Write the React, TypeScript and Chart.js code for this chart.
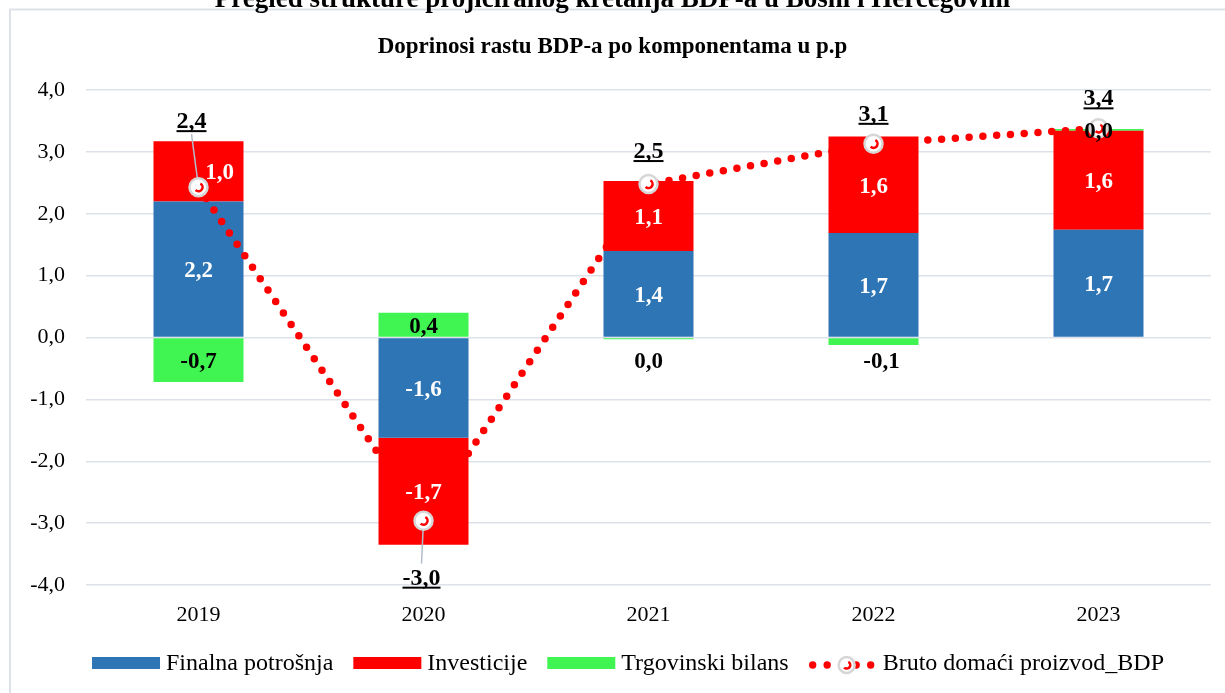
import React, { useEffect, useRef } from 'react';
import { Chart, registerables } from 'chart.js';

Chart.register(...registerables);

// ---- Data ----
const categories = ['2019', '2020', '2021', '2022', '2023'];
const finalnaPotrosnja = [2.2, -1.62, 1.4, 1.69, 1.74];
const investicije = [0.97, -1.73, 1.13, 1.56, 1.6];
const trgovinskiBilans = [-0.72, 0.4, -0.03, -0.12, 0.03];
const bdp = [2.43, -2.96, 2.48, 3.13, 3.38];
const yMin = -4;
const yMax = 4;
const yStep = 1;

const seriesNames = ['Finalna potrošnja', 'Investicije', 'Trgovinski bilans', 'Bruto domaći proizvod_BDP'];
const TITLE = 'Pregled strukture projiciranog kretanja BDP-a u Bosni i Hercegovini';
const SUBTITLE = 'Doprinosi rastu BDP-a po komponentama u p.p';

// ---- Styles ----
const FONT = "'Liberation Serif', 'Times New Roman', serif";
const BLUE = '#2E75B6';
const RED = '#FF0000';
const GREEN = '#40F552';
const GRID = '#dde1e9';

// label placement tweaks (pixels), style only
const bdpLabelOffsets: Array<[number, number, boolean]> = [
  [-7, -67, true],
  [-2, 56, true],
  [0, -34, false],
  [0, -31, false],
  [0, -31, false],
];
const barLabelNudge: Record<string, [number, number]> = {
  '1-0': [21, 0],
  '2-3': [8, 0],
};

const fmt = (v: number) => {
  const r = Math.round(v * 10) / 10;
  let s = r.toFixed(1);
  if (s === '-0.0') s = '0.0';
  return s.replace('.', ',');
};

function drawMarker(ctx: CanvasRenderingContext2D, x: number, y: number, r: number) {
  ctx.save();
  ctx.beginPath();
  ctx.arc(x, y, r, 0, Math.PI * 2);
  ctx.fillStyle = '#ffffff';
  ctx.fill();
  ctx.lineWidth = 2.5;
  ctx.strokeStyle = '#d6d6d6';
  ctx.stroke();
  ctx.beginPath();
  ctx.arc(x, y, r * 0.45, -Math.PI * 0.35, Math.PI * 0.75);
  ctx.strokeStyle = RED;
  ctx.lineWidth = 2.5;
  ctx.stroke();
  ctx.restore();
}

const framePlugin = {
  id: 'frame',
  beforeDraw(chart: any) {
    const ctx: CanvasRenderingContext2D = chart.ctx;
    ctx.save();
    ctx.fillStyle = '#ffffff';
    ctx.fillRect(0, 0, chart.width, chart.height);
    ctx.strokeStyle = '#dde1ea';
    ctx.lineWidth = 2;
    ctx.strokeRect(10, 9.5, chart.width + 20, chart.height + 20);
    ctx.fillStyle = '#000';
    ctx.textAlign = 'center';
    ctx.textBaseline = 'alphabetic';
    ctx.font = `bold 27px ${FONT}`;
    ctx.fillText(TITLE, chart.width / 2, 6.5);
    ctx.font = `bold 23px ${FONT}`;
    ctx.textBaseline = 'middle';
    ctx.fillText(SUBTITLE, chart.width / 2, 47);
    ctx.restore();
  },
};

const labelsPlugin = {
  id: 'valueLabels',
  afterDatasetsDraw(chart: any) {
    const ctx: CanvasRenderingContext2D = chart.ctx;
    const yScale = chart.scales.y;
    const zeroY = yScale.getPixelForValue(0);
    ctx.save();
    // BDP line: leader lines and markers
    const lineIdx = 3;
    const lmeta = chart.getDatasetMeta(lineIdx);
    const ldata = chart.data.datasets[lineIdx].data as number[];
    lmeta.data.forEach((pt: any, i: number) => {
      const [dx, dy, leader] = bdpLabelOffsets[i];
      const lx = pt.x + dx;
      const ly = pt.y + dy;
      if (leader) {
        ctx.beginPath();
        ctx.strokeStyle = '#b3bccb';
        ctx.lineWidth = 1.5;
        const startY = dy < 0 ? ly + 14 : ly - 13;
        ctx.moveTo(lx, startY);
        ctx.lineTo(pt.x, pt.y);
        ctx.stroke();
      }
    });
    lmeta.data.forEach((pt: any) => drawMarker(ctx, pt.x, pt.y, 9));
    // bar labels
    for (let d = 0; d < 3; d++) {
      const meta = chart.getDatasetMeta(d);
      const data = chart.data.datasets[d].data as number[];
      meta.data.forEach((el: any, i: number) => {
        const v = data[i];
        let x = el.x;
        let y = (el.y + el.base) / 2;
        if (d === 2 && v < 0 && Math.abs(v) < 0.2) y = zeroY + 22;
        const n = barLabelNudge[`${d}-${i}`];
        if (n) { x += n[0]; y += n[1]; }
        ctx.font = `bold 23px ${FONT}`;
        ctx.fillStyle = d === 2 ? '#000' : '#fff';
        ctx.textAlign = 'center';
        ctx.textBaseline = 'alphabetic';
        ctx.fillText(fmt(v), x, y + 8);
      });
    }
    // BDP labels
    lmeta.data.forEach((pt: any, i: number) => {
      const [dx, dy] = bdpLabelOffsets[i];
      const lx = pt.x + dx;
      const ly = pt.y + dy;
      const txt = fmt(ldata[i]);
      ctx.font = `bold 24px ${FONT}`;
      ctx.fillStyle = '#000';
      ctx.textAlign = 'center';
      ctx.textBaseline = 'alphabetic';
      const base = ly + 8;
      ctx.fillText(txt, lx, base);
      const w = ctx.measureText(txt).width;
      ctx.fillRect(lx - w / 2, base + 2, w, 2);
    });
    ctx.restore();
  },
};

const legendPlugin = {
  id: 'customLegend',
  afterDraw(chart: any) {
    const ctx: CanvasRenderingContext2D = chart.ctx;
    const sym = 68;
    const gap = 6;
    const spacing = 20;
    const cy = 663;
    const centerX = 628;
    ctx.save();
    ctx.font = `24px ${FONT}`;
    const ds = chart.data.datasets;
    const widths = ds.map((d: any) => ctx.measureText(d.label).width);
    const total = widths.reduce((a: number, b: number) => a + b, 0) + ds.length * (sym + gap) + (ds.length - 1) * spacing;
    let x = centerX - total / 2;
    ds.forEach((d: any, i: number) => {
      if (d.type === 'line') {
        ctx.fillStyle = RED;
        for (let k = 0; k < 5; k++) {
          const dxp = x + 4 + k * 14.5;
          ctx.beginPath();
          ctx.arc(dxp, cy + 2, 3.7, 0, Math.PI * 2);
          ctx.fill();
        }
        drawMarker(ctx, x + 38, cy + 2, 8);
      } else {
        ctx.fillStyle = d.backgroundColor;
        ctx.fillRect(x, cy - 6, sym, 12);
      }
      x += sym + gap;
      ctx.fillStyle = '#000';
      ctx.textAlign = 'left';
      ctx.textBaseline = 'middle';
      ctx.fillText(d.label, x, cy + 1);
      x += widths[i] + spacing;
    });
    ctx.restore();
  },
};

export default function App() {
  const canvasRef = useRef<HTMLCanvasElement | null>(null);

  useEffect(() => {
    if (!canvasRef.current) return;
    Chart.defaults.font.family = FONT;
    Chart.defaults.color = '#000';
    const barCommon = {
      stack: 'comp',
      categoryPercentage: 1,
      barPercentage: 0.4,
      borderWidth: 0,
      order: 1,
    };
    const chart = new Chart(canvasRef.current, {
      type: 'bar',
      data: {
        labels: categories,
        datasets: [
          { ...barCommon, label: seriesNames[0], data: finalnaPotrosnja, backgroundColor: BLUE },
          { ...barCommon, label: seriesNames[1], data: investicije, backgroundColor: RED },
          { ...barCommon, label: seriesNames[2], data: trgovinskiBilans, backgroundColor: GREEN },
          {
            type: 'line',
            label: seriesNames[3],
            data: bdp,
            stack: 'bdp',
            order: 0,
            borderColor: RED,
            backgroundColor: RED,
            borderWidth: 7.5,
            borderDash: [0, 13.8],
            borderCapStyle: 'round',
            pointRadius: 0,
            pointHoverRadius: 0,
            tension: 0,
            fill: false,
          } as any,
        ],
      },
      options: {
        responsive: false,
        animation: false,
        events: [],
        layout: { padding: { left: 10, right: 14, top: 90, bottom: 28 } },
        plugins: {
          legend: { display: false },
          title: { display: false },
          tooltip: { enabled: false },
        },
        scales: {
          x: {
            stacked: true,
            grid: { display: false },
            border: { display: false },
            ticks: { font: { size: 22, family: FONT }, color: '#000', padding: 9 },
            afterFit: (s: any) => { s.height = 80; },
          },
          y: {
            stacked: true,
            min: yMin,
            max: yMax,
            border: { display: false },
            grid: { color: GRID, lineWidth: 1.5, drawTicks: false },
            ticks: {
              stepSize: yStep,
              font: { size: 22, family: FONT },
              color: '#000',
              padding: 21,
              callback: (v: any) => Number(v).toFixed(1).replace('.', ','),
            },
            afterFit: (s: any) => { s.width = 76; },
          },
        },
      },
      plugins: [framePlugin, labelsPlugin, legendPlugin],
    });
    return () => chart.destroy();
  }, []);

  return (
    <div style={{ position: 'fixed', left: 0, top: 0, width: 1225, height: 693, background: '#fff' }}>
      <canvas ref={canvasRef} width={1225} height={693} style={{ display: 'block' }} />
    </div>
  );
}
